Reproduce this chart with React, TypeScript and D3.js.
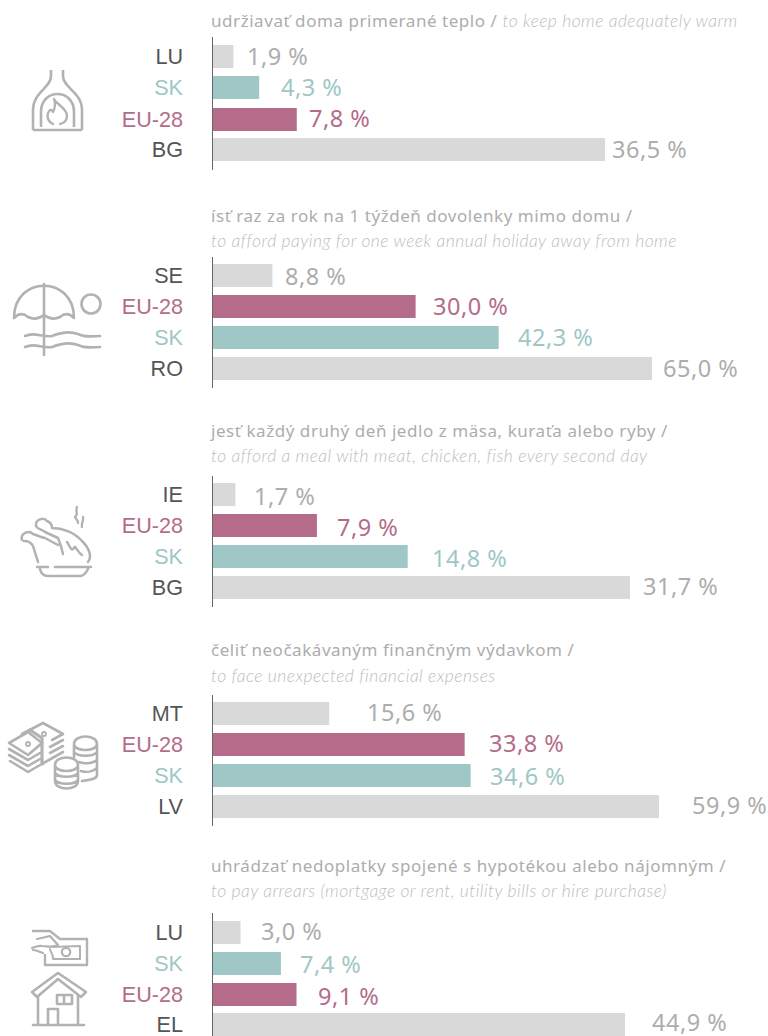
import React from "react";
import * as d3 from "d3";

const panel1Countries = ["LU", "SK", "EU-28", "BG"];
const panel1Values = [1.9, 4.3, 7.8, 36.5];
const panel2Countries = ["SE", "EU-28", "SK", "RO"];
const panel2Values = [8.8, 30.0, 42.3, 65.0];
const panel3Countries = ["IE", "EU-28", "SK", "BG"];
const panel3Values = [1.7, 7.9, 14.8, 31.7];
const panel4Countries = ["MT", "EU-28", "SK", "LV"];
const panel4Values = [15.6, 33.8, 34.6, 59.9];
const panel5Countries = ["LU", "SK", "EU-28", "EL"];
const panel5Values = [3.0, 7.4, 9.1, 44.9];

const titlesSk = [
  "udržiavať doma primerané teplo / ",
  "ísť raz za rok na 1 týždeň dovolenky mimo domu /",
  "jesť každý druhý deň jedlo z mäsa, kuraťa alebo ryby /",
  "čeliť neočakávaným finančným výdavkom /",
  "uhrádzať nedoplatky spojené s hypotékou alebo nájomným /",
];
const titlesEn = [
  "to keep home adequately warm",
  "to afford paying for one week annual holiday away from home",
  "to afford a meal with meat, chicken, fish every second day",
  "to face unexpected financial expenses",
  "to pay arrears (mortgage or rent, utility bills or hire purchase)",
];

const layout = [
  { rows: [45, 76, 108, 138], axis: [37, 170], end: 605, titleY: [27, 27], labelX: [247, 281, 309, 612], labelY: [65, 96, 127, 158] },
  { rows: [264, 295, 326, 357], axis: [257, 388], end: 652, titleY: [222, 247], labelX: [285, 433, 518, 663], labelY: [285, 315, 346, 377] },
  { rows: [483, 514, 545, 576], axis: [476, 607], end: 630, titleY: [437, 462], labelX: [254, 337, 432, 643], labelY: [505, 536, 567, 595] },
  { rows: [702, 733, 764, 795], axis: [695, 826], end: 659, titleY: [656, 682], labelX: [367, 489, 490, 692], labelY: [721, 752, 785, 814] },
  { rows: [921, 952, 983, 1013], axis: [913, 1036], end: 625, titleY: [872, 897], labelX: [261, 300, 318, 652], labelY: [940, 973, 1005, 1031] },
];

const panels = [
  { countries: panel1Countries, values: panel1Values },
  { countries: panel2Countries, values: panel2Values },
  { countries: panel3Countries, values: panel3Values },
  { countries: panel4Countries, values: panel4Values },
  { countries: panel5Countries, values: panel5Values },
];

const X0 = 213;
const BAR_H = 23;
const PINK = "#b46c8a";
const TEAL = "#9fc7c5";
const GREY = "#d9d9d9";
const TEXTGREY = "#adadad";
const DARK = "#555555";
const ICON = "#b2b2b2";
const VALUE_FONT = "'Noto Sans', sans-serif";

const barColor = (c: string) => (c === "EU-28" ? PINK : c === "SK" ? TEAL : GREY);
const labelColor = (c: string) => (c === "EU-28" ? PINK : c === "SK" ? TEAL : DARK);
const valueColor = (c: string) => (c === "EU-28" ? PINK : c === "SK" ? TEAL : TEXTGREY);
const fmt = (v: number) => v.toFixed(1).replace(".", ",") + " %";

function Icons() {
  return (
    <g fill="none" stroke={ICON} strokeWidth={2.3} strokeLinecap="round" strokeLinejoin="round">
      {/* oven */}
      <path d="M51 70 V76 C51 88 33 92 33 110 V130 M63 70 V76 C63 88 82 92 82 110 V130 M33 130 H82" strokeLinecap="butt" strokeWidth={2.6} />
      <path d="M41 127 V112 C41 88 74 88 74 112 V127" strokeLinecap="butt" strokeWidth={2.6} />
      <path d="M54 99 C57 105 67 108 67 116 C67 121 64 123 60 124 M53 124 C48 122 46 116 49 111 C51 109 52 110 53 112 C55 108 56 104 54 99" />

      {/* umbrella */}
      <path d="M44 284 V355" strokeWidth={2.6} />
      <path d="M14 318 C14 275 74 275 74 318 Q67 311 60 317 Q52 321 44 315 Q36 321 28 317 Q21 311 14 318 Z" strokeWidth={2.6} />
      <circle cx={91} cy={304} r={9.5} strokeWidth={2.6} />
      <path d="M25 336 C35 331 42 338 52 336 C62 332 70 331 78 334 C86 338 93 336 100 336" strokeWidth={2.6} />
      <path d="M25 347 C35 342 42 349 52 347 C62 343 70 342 78 345 C86 349 93 347 100 347" strokeWidth={2.6} />

      {/* chicken */}
      <path d="M77 507 C75 511 79 514 75 517 C76 519 78 520 78 523 M83 517 C84 521 81 523 82 527" />
      <path d="M36 526 C35 519 44 517 47 521 C50 522 52 525 52 528 C62 528 74 532 82 541 C90 549 92 557 88 562" strokeWidth={2.5} />
      <path d="M36 526 C38 530 42 529 45 532 L58 538 M58 538 C60 543 62 549 63 554" strokeWidth={2.5} />
      <path d="M22 540 C20 533 29 530 33 534 C37 535 40 537 45 538 L58 545 M24 541 C28 541 31 542 33 546 L38 562" strokeWidth={2.5} />
      <path d="M67 542 C70 546 71 552 74 548 C75 544 77 552 82 555" strokeWidth={2.5} />
      <path d="M37 567 H48 M55 567 H91 M40 569 C41 574 44 576 48 576 H80 C84 576 86 573 88 569" strokeWidth={2.5} />

      {/* money */}
      <path d="M9 743 L28 732 L42 743 L28 755 Z" strokeWidth={2.6} />
      <path d="M9 749 L28 760 L40 753 M9 755 L28 766 L40 759 M10 761 L28 772 L40 765" strokeWidth={2.6} />
      <path d="M22 734 L43 723 L63 734 L52 740 M63 740 L50 747 M63 746 L50 753 M63 752 L42 764" strokeWidth={2.6} />
      <path d="M30 730 L42 738 V764" strokeWidth={3.2} />
      <circle cx={28} cy={744} r={2} strokeWidth={1.8} />
      <circle cx={44} cy={734} r={2} strokeWidth={1.8} />
      <path d="M74 744 C74 734 97 734 97 744 C97 752 74 752 74 744 V757 M97 744 V775 C97 779 90 780 82 781 M74 752 C78 757 93 757 97 752 M79 762 C84 764 92 764 97 760 M81 771 C88 773 92 772 97 768" strokeWidth={2.6} />
      <path d="M55 765 C55 755 78 755 78 765 C78 773 55 773 55 765 V781 C55 791 78 791 78 781 V765 M55 773 C58 778 75 778 78 773 M55 780 C58 785 75 785 78 780" strokeWidth={2.6} />

      {/* hand with note and house */}
      <path d="M32 931 H50 L60 939 H87 V965 H45 V954" strokeWidth={2.4} strokeLinecap="butt" />
      <path d="M37 939 C42 938 46 937 50 936 L58 945 C52 948 48 946 42 946 C38 945 35 947 32 948 M33 950 C37 950 40 952 43 953" strokeWidth={2.2} />
      <path d="M52 947 L80 946 V959 H53 C54 955 50 952 50 949" strokeWidth={2} />
      <circle cx={66} cy={952} r={4.2} strokeWidth={2.2} />
      <path d="M32 992 L58 973 L86 992 L81 997 L58 979 L37 997 Z" strokeWidth={2.6} />
      <path d="M38 996 V1024 M78 996 V1024 M33 1025 H84 M48 1024 V1009 H58 V1024" strokeWidth={2.6} />
      <path d="M57 995 H72 V1004 H57 Z M64 995 V1004" strokeWidth={2.6} />
    </g>
  );
}

export default function App() {
  return (
    <svg
      width={768}
      height={1036}
      viewBox="0 0 768 1036"
      style={{ position: "absolute", left: 0, top: 0, background: "#fff" }}
    >
      <Icons />
      {panels.map((p, i) => {
        const l = layout[i];
        const x = d3
          .scaleLinear()
          .domain([0, d3.max(p.values) as number])
          .range([X0, l.end]);
        const titleProps = { x: 211, fontFamily: "'Noto Sans', sans-serif", fontSize: 17, letterSpacing: 0.55 };
        const enProps = { fontFamily: "Lato, sans-serif", fontStyle: "italic" as const, fontWeight: 300, fontSize: 17.5, letterSpacing: 0.45, fill: "#bdbdbd" };
        return (
          <g key={i}>
            {i === 0 ? (
              <text {...titleProps} y={l.titleY[0]} fill={TEXTGREY}>
                {titlesSk[i]}
                <tspan {...enProps}>{titlesEn[i]}</tspan>
              </text>
            ) : (
              <>
                <text {...titleProps} y={l.titleY[0]} fill={TEXTGREY}>{titlesSk[i]}</text>
                <text x={211} y={l.titleY[1]} {...enProps}>{titlesEn[i]}</text>
              </>
            )}
            <line x1={212.5} x2={212.5} y1={l.axis[0]} y2={l.axis[1]} stroke="#666" strokeWidth={1} />
            {p.countries.map((c, j) => (
              <g key={c}>
                <rect x={X0} y={l.rows[j]} width={x(p.values[j]) - X0} height={Math.min(BAR_H, 1036 - l.rows[j])} fill={barColor(c)} />
                <text
                  x={183}
                  y={l.rows[j] + 18.5}
                  textAnchor="end"
                  fontFamily="'Liberation Sans', Arial, sans-serif"
                  fontSize={21.6}
                  fill={labelColor(c)}
                >
                  {c}
                </text>
                <text
                  x={l.labelX[j]}
                  y={l.labelY[j]}
                  fontFamily={VALUE_FONT}
                  fontSize={23.5}
                  letterSpacing={0.5}
                  fill={valueColor(c)}
                >
                  {fmt(p.values[j])}
                </text>
              </g>
            ))}
          </g>
        );
      })}
    </svg>
  );
}
